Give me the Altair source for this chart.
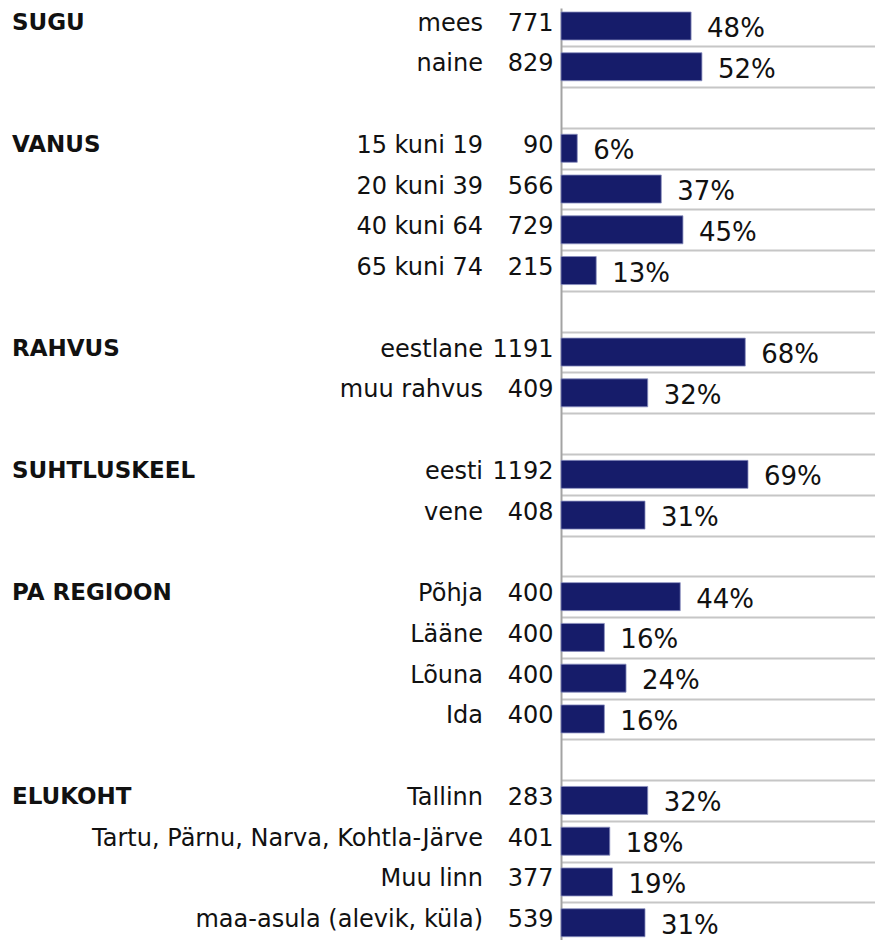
import altair as alt
import pandas as pd

groups = ["SUGU", "VANUS", "RAHVUS", "SUHTLUSKEEL", "PA REGIOON", "ELUKOHT"]
categories = [
    ["mees", "naine"],
    ["15 kuni 19", "20 kuni 39", "40 kuni 64", "65 kuni 74"],
    ["eestlane", "muu rahvus"],
    ["eesti", "vene"],
    ["Põhja", "Lääne", "Lõuna", "Ida"],
    ["Tallinn", "Tartu, Pärnu, Narva, Kohtla-Järve", "Muu linn", "maa-asula (alevik, küla)"],
]
counts = [
    [771, 829],
    [90, 566, 729, 215],
    [1191, 409],
    [1192, 408],
    [400, 400, 400, 400],
    [283, 401, 377, 539],
]
percents = [
    [48, 52],
    [6, 37, 45, 13],
    [68, 32],
    [69, 31],
    [44, 16, 24, 16],
    [32, 18, 19, 31],
]

rows = []
r = 0
for gi, g in enumerate(groups):
    for ci, c in enumerate(categories[gi]):
        rows.append({
            "row": r,
            "group": g if ci == 0 else "",
            "category": c,
            "n": str(counts[gi][ci]),
            "pct": percents[gi][ci],
            "pct_label": f"{percents[gi][ci]}%",
        })
        r += 1
    r += 1  # blank separator row
n_rows = r - 1
df = pd.DataFrame(rows)

ROW_PX = 40.76
ROW0 = 18
H = 932
W = 314
d0 = -ROW0 / ROW_PX
d1 = d0 + H / ROW_PX
grid_vals = [i - 0.5 for i in range(n_rows + 1)]

y_enc = alt.Y(
    "row:Q",
    scale=alt.Scale(domain=[d0, d1], reverse=True, nice=False, zero=False, padding=0),
    axis=alt.Axis(
        values=grid_vals, labels=False, ticks=False, title=None,
        grid=True, gridColor="#c6c6c6", gridWidth=2,
        domain=True, domainColor="#a3a3a3", domainWidth=2,
    ),
)
x_enc = alt.X("pct:Q", scale=alt.Scale(domain=[0, W / 2.71], nice=False, padding=0), axis=None)

base = alt.Chart(df)

bars = base.mark_bar(
    orient="horizontal", size=28, color="#161c6a", stroke="#8a8fbf", strokeWidth=0.8
).encode(x=x_enc, y=y_enc)

pct_text = base.mark_text(
    align="left", baseline="alphabetic", dx=16, dy=11,
    font="DejaVu Sans", fontSize=26, color="#111111",
).encode(x=x_enc, y=y_enc, text="pct_label:N")

cat_text = base.mark_text(
    align="right", baseline="alphabetic", dy=4.5,
    font="DejaVu Sans", fontSize=24, color="#111111",
).encode(x=alt.value(-78), y=y_enc, text="category:N")

n_text = base.mark_text(
    align="right", baseline="alphabetic", dy=4.5,
    font="DejaVu Sans", fontSize=24, color="#111111",
).encode(x=alt.value(-7.5), y=y_enc, text="n:N")

grp_text = base.mark_text(
    align="left", baseline="alphabetic", dy=3.5,
    font="DejaVu Sans", fontSize=23, fontWeight="bold", color="#111111",
).encode(x=alt.value(-549), y=y_enc, text="group:N")

chart = alt.layer(bars, pct_text, cat_text, n_text, grp_text).properties(
    width=W, height=H,
    autosize=alt.AutoSizeParams(type="none"),
    padding={"left": 553, "top": 0, "right": 0, "bottom": 0},
).configure_view(stroke=None)

chart.save("out.html", embed_options={"renderer": "svg", "actions": False})
